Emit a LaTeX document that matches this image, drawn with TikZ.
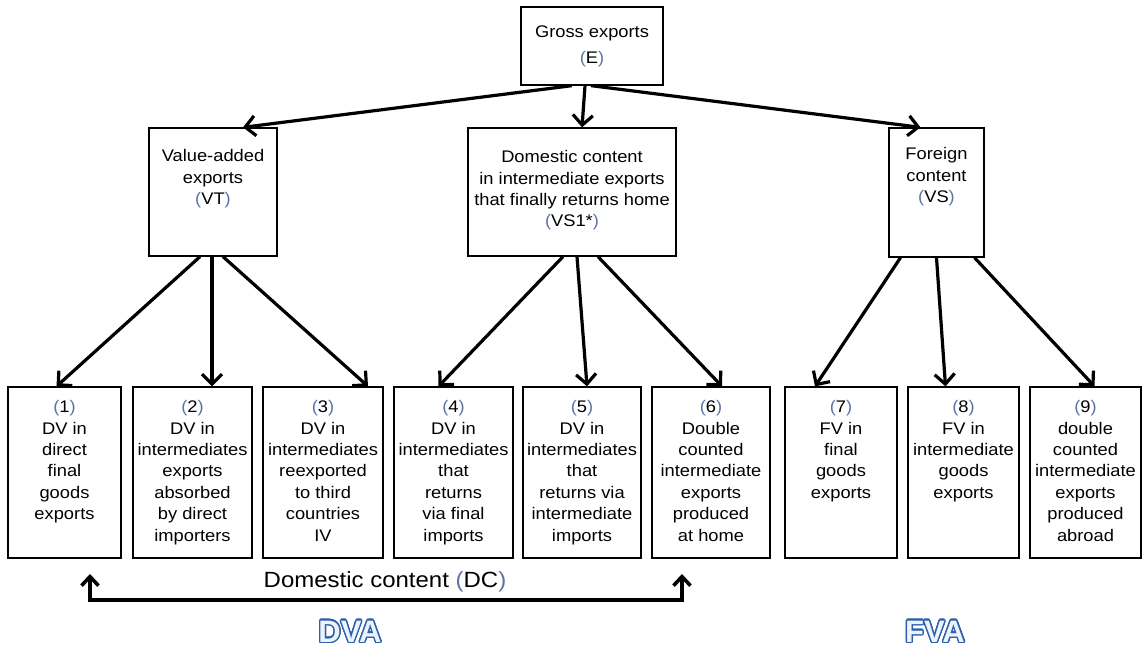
\documentclass[tikz,border=0pt]{standalone}
\usepackage{fontspec}
\setmainfont{Liberation Sans}[FakeStretch=1.09]
\newfontfamily\vafont{Liberation Sans}
\usepackage{contour}
\usetikzlibrary{positioning,arrows.meta}
\definecolor{parcol}{RGB}{95,115,165}
\definecolor{vablue}{RGB}{45,95,170}
\definecolor{vafill}{RGB}{236,243,252}
\newcommand{\bp}[1]{{\color{parcol}(}#1{\color{parcol})}}
\contourlength{1.4pt}

\begin{document}
\begin{tikzpicture}[x=1pt,y=-1pt,node distance=3cm]
    \tikzstyle{box} = [rectangle, draw, line width=1.3pt, inner sep=0pt]
    \tikzstyle{txt} = [align=center, inner sep=0pt, font=\fontsize{16.8}{21.4}\selectfont]
    \tikzstyle{arrow} = [line width=3.2pt, -{Straight Barb[length=10pt,width=20pt]}]
    \tikzstyle{bracket} = [line width=3.6pt, {Straight Barb[length=9pt,width=17pt]}-{Straight Barb[length=9pt,width=17pt]}]
    \tikzstyle{va} = [anchor=base, font=\vafont\bfseries\fontsize{31}{36}\selectfont]

    \useasboundingbox (0,0) rectangle (1142,646);

    \node[box, txt, minimum width=142pt, minimum height=78pt] (gross) at (592,46) {Gross exports\\[4.6pt]\bp{E}};

    \node[box, minimum width=128pt, minimum height=128pt] (vt) at (213,192) {};
    \node[box, minimum width=208pt, minimum height=128pt] (vsone) at (572,192) {};
    \node[box, minimum width=95pt, minimum height=129pt] (vs) at (936.5,192.5) {};
    \node[txt, below=22pt of vt.north] (vttext) {Value-added\\exports\\\bp{VT}};
    \node[txt, below=23pt of vsone.north] (vsonetext) {Domestic content\\in intermediate exports\\that finally returns home\\\bp{VS1*}};
    \node[txt, below=20pt of vs.north] (vstext) {Foreign\\content\\\bp{VS}};

    \node[box, minimum width=113pt, minimum height=171pt] (b1) at (64.5,472.5) {};
    \node[box, minimum width=119pt, minimum height=171pt] (b2) at (192.5,472.5) {};
    \node[box, minimum width=120pt, minimum height=171pt] (b3) at (323,472.5) {};
    \node[box, minimum width=119pt, minimum height=171pt] (b4) at (453.5,472.5) {};
    \node[box, minimum width=118pt, minimum height=171pt] (b5) at (582,472.5) {};
    \node[box, minimum width=118pt, minimum height=171pt] (b6) at (711,472.5) {};
    \node[box, minimum width=112pt, minimum height=171pt] (b7) at (841,472.5) {};
    \node[box, minimum width=111pt, minimum height=171pt] (b8) at (963.5,472.5) {};
    \node[box, minimum width=111pt, minimum height=171pt] (b9) at (1085.5,472.5) {};

    \node[txt, below=14pt of b1.north] (b1text) {\bp{1}\\DV in\\direct\\final\\goods\\exports};
    \node[txt, below=14pt of b2.north] (b2text) {\bp{2}\\DV in\\intermediates\\exports\\absorbed\\by direct\\importers};
    \node[txt, below=14pt of b3.north] (b3text) {\bp{3}\\DV in\\intermediates\\reexported\\to third\\countries\\IV};
    \node[txt, below=14pt of b4.north] (b4text) {\bp{4}\\DV in\\intermediates\\that\\returns\\via final\\imports};
    \node[txt, below=14pt of b5.north] (b5text) {\bp{5}\\DV in\\intermediates\\that\\returns via\\intermediate\\imports};
    \node[txt, below=14pt of b6.north] (b6text) {\bp{6}\\Double\\counted\\intermediate\\exports\\produced\\at home};
    \node[txt, below=14pt of b7.north] (b7text) {\bp{7}\\FV in\\final\\goods\\exports};
    \node[txt, below=14pt of b8.north] (b8text) {\bp{8}\\FV in\\intermediate\\goods\\exports};
    \node[txt, below=14pt of b9.north] (b9text) {\bp{9}\\double\\counted\\intermediate\\exports\\produced\\abroad};

    \draw[arrow] ([xshift=-20pt]gross.south) -- ([xshift=30pt]vt.north);
    \draw[arrow] ([xshift=-7pt]gross.south) -- ([xshift=10pt]vsone.north);
    \draw[arrow] ([xshift=-1pt]gross.south) -- ([xshift=-16pt]vs.north);

    \draw[arrow] ([xshift=-13pt]vt.south) -- ([xshift=-8pt]b1.north);
    \draw[arrow] ([xshift=-1pt]vt.south) -- ([xshift=19.5pt]b2.north);
    \draw[arrow] ([xshift=10pt]vt.south) -- ([xshift=45pt]b3.north);

    \draw[arrow] ([xshift=-9pt]vsone.south) -- ([xshift=-15pt]b4.north);
    \draw[arrow] ([xshift=5pt]vsone.south) -- ([xshift=5pt]b5.north);
    \draw[arrow] ([xshift=26pt]vsone.south) -- ([xshift=11pt]b6.north);

    \draw[arrow] ([xshift=-36pt]vs.south) -- ([xshift=-26pt]b7.north);
    \draw[arrow] (vs.south) -- ([xshift=-18pt]b8.north);
    \draw[arrow] ([xshift=38pt]vs.south) -- ([xshift=9pt]b9.north);

    \coordinate (dcltip) at (90,574);
    \coordinate (dcl) at (90,600);
    \coordinate (dcr) at (682,600);
    \coordinate (dcrtip) at (682,574);
    \draw[bracket] (dcltip) -- (dcl) -- (dcr) -- (dcrtip);
    \node[anchor=base, font=\fontsize{22}{26}\selectfont] (dclabel) at (385,587) {Domestic content \bp{DC}};

    \node[va] (dva) at (350,642) {\contour{vablue}{\textcolor{vafill}{DVA}}};
    \node[va] (fva) at (935,642) {\contour{vablue}{\textcolor{vafill}{FVA}}};
\end{tikzpicture}
\end{document}
